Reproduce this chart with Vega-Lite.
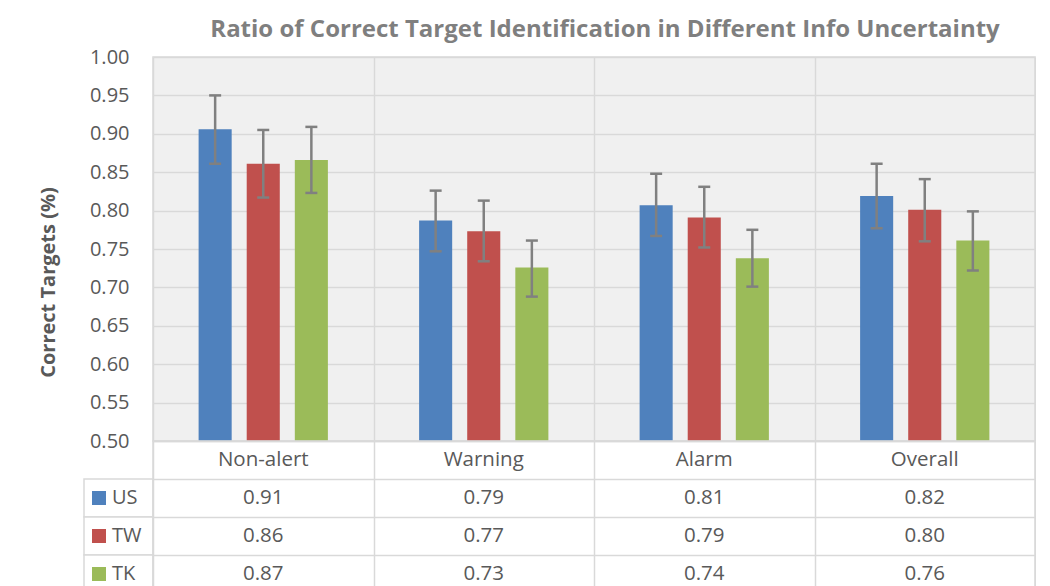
{
  "$schema": "https://vega.github.io/schema/vega-lite/v6.json",
  "background": "white",
  "padding": {"left": 37, "top": 17, "right": 0, "bottom": 0},
  "config": {"font": "Open Sans", "view": {"stroke": null}},
  "datasets": {
    "d": [
      {"cat": "Non-alert", "series": "US", "value": 0.906, "lo": 0.861, "hi": 0.950},
      {"cat": "Warning", "series": "US", "value": 0.787, "lo": 0.747, "hi": 0.826},
      {"cat": "Alarm", "series": "US", "value": 0.807, "lo": 0.767, "hi": 0.848},
      {"cat": "Overall", "series": "US", "value": 0.819, "lo": 0.777, "hi": 0.861},
      {"cat": "Non-alert", "series": "TW", "value": 0.861, "lo": 0.817, "hi": 0.905},
      {"cat": "Warning", "series": "TW", "value": 0.773, "lo": 0.734, "hi": 0.813},
      {"cat": "Alarm", "series": "TW", "value": 0.791, "lo": 0.752, "hi": 0.831},
      {"cat": "Overall", "series": "TW", "value": 0.801, "lo": 0.760, "hi": 0.841},
      {"cat": "Non-alert", "series": "TK", "value": 0.866, "lo": 0.823, "hi": 0.909},
      {"cat": "Warning", "series": "TK", "value": 0.726, "lo": 0.688, "hi": 0.761},
      {"cat": "Alarm", "series": "TK", "value": 0.738, "lo": 0.701, "hi": 0.775},
      {"cat": "Overall", "series": "TK", "value": 0.761, "lo": 0.722, "hi": 0.799}
    ]
  },
  "columns": 2,
  "spacing": 0,
  "bounds": "flush",
  "align": "each",
  "concat": [
    {
      "width": 69,
      "height": 384,
      "data": {"values": []},
      "mark": "point"
    },
    {
      "width": 882,
      "height": 384,
      "data": {"name": "d"},
      "title": {
        "text": "Ratio of Correct Target Identification in Different Info Uncertainty",
        "fontSize": 24,
        "fontWeight": "bold",
        "color": "#7f7f7f",
        "font": "Open Sans",
        "anchor": "middle",
        "offset": 5,
        "dx": 11
      },
      "view": {"stroke": "#d9d9d9", "strokeWidth": 1.5, "fill": "#f0f0f0"},
      "encoding": {
        "x": {
          "field": "cat",
          "type": "nominal",
          "sort": ["Non-alert", "Warning", "Alarm", "Overall"],
          "scale": {"paddingInner": 0, "paddingOuter": 0},
          "axis": {
            "labels": false,
            "ticks": false,
            "domain": false,
            "title": null,
            "grid": true,
            "tickBand": "extent",
            "gridColor": "#d9d9d9",
            "gridWidth": 1.5
          }
        },
        "xOffset": {
          "field": "series",
          "type": "nominal",
          "sort": ["US", "TW", "TK"],
          "scale": {"paddingInner": 0.3125, "paddingOuter": 0.948}
        }
      },
      "layer": [
        {
          "mark": {"type": "bar"},
          "encoding": {
            "y": {
              "field": "value",
              "type": "quantitative",
              "scale": {"domain": [0.5, 1.0], "zero": false, "nice": false},
              "axis": {
                "values": [0.5, 0.55, 0.6, 0.65, 0.7, 0.75, 0.8, 0.85, 0.9, 0.95, 1.0],
                "labelOverlap": false,
                "format": ".2f",
                "labelFontSize": 20,
                "labelColor": "#595959",
                "labelPadding": 24,
                "ticks": false,
                "domain": false,
                "gridColor": "#d9d9d9",
                "gridWidth": 1.5,
                "title": "Correct Targets (%)",
                "titleFontSize": 20,
                "titleFontWeight": "bold",
                "titleColor": "#595959",
                "titlePadding": 31,
                "titleY": 225
              }
            },
            "y2": {"datum": 0.5},
            "color": {
              "field": "series",
              "type": "nominal",
              "scale": {"domain": ["US", "TW", "TK"], "range": ["#4f81bd", "#c0504d", "#9bbb59"]},
              "legend": null
            }
          }
        },
        {
          "mark": {"type": "rule", "color": "#808080", "strokeWidth": 2.5},
          "encoding": {
            "y": {
              "field": "lo",
              "type": "quantitative",
              "axis": {
                "values": [0.5, 0.55, 0.6, 0.65, 0.7, 0.75, 0.8, 0.85, 0.9, 0.95, 1.0],
                "labelOverlap": false,
                "format": ".2f",
                "labelFontSize": 20,
                "labelColor": "#595959",
                "labelPadding": 24,
                "ticks": false,
                "domain": false,
                "gridColor": "#d9d9d9",
                "gridWidth": 1.5,
                "title": "Correct Targets (%)",
                "titleFontSize": 20,
                "titleFontWeight": "bold",
                "titleColor": "#595959",
                "titlePadding": 31,
                "titleY": 225
              }
            },
            "y2": {"field": "hi"}
          }
        },
        {
          "mark": {"type": "tick", "orient": "horizontal", "color": "#808080", "thickness": 2.5, "size": 12, "opacity": 1},
          "encoding": {
            "y": {
              "field": "lo",
              "type": "quantitative",
              "axis": {
                "values": [0.5, 0.55, 0.6, 0.65, 0.7, 0.75, 0.8, 0.85, 0.9, 0.95, 1.0],
                "labelOverlap": false,
                "format": ".2f",
                "labelFontSize": 20,
                "labelColor": "#595959",
                "labelPadding": 24,
                "ticks": false,
                "domain": false,
                "gridColor": "#d9d9d9",
                "gridWidth": 1.5,
                "title": "Correct Targets (%)",
                "titleFontSize": 20,
                "titleFontWeight": "bold",
                "titleColor": "#595959",
                "titlePadding": 31,
                "titleY": 225
              }
            }
          }
        },
        {
          "mark": {"type": "tick", "orient": "horizontal", "color": "#808080", "thickness": 2.5, "size": 12, "opacity": 1},
          "encoding": {
            "y": {
              "field": "hi",
              "type": "quantitative",
              "axis": {
                "values": [0.5, 0.55, 0.6, 0.65, 0.7, 0.75, 0.8, 0.85, 0.9, 0.95, 1.0],
                "labelOverlap": false,
                "format": ".2f",
                "labelFontSize": 20,
                "labelColor": "#595959",
                "labelPadding": 24,
                "ticks": false,
                "domain": false,
                "gridColor": "#d9d9d9",
                "gridWidth": 1.5,
                "title": "Correct Targets (%)",
                "titleFontSize": 20,
                "titleFontWeight": "bold",
                "titleColor": "#595959",
                "titlePadding": 31,
                "titleY": 225
              }
            }
          }
        }
      ]
    },
    {
      "width": 69,
      "height": 152,
      "data": {"name": "d"},
      "transform": [{"filter": "datum.cat === 'Non-alert'"}],
      "encoding": {
        "y": {
          "field": "series",
          "type": "nominal",
          "scale": {"domain": ["Category", "US", "TW", "TK"], "paddingInner": 0, "paddingOuter": 0},
          "axis": null
        }
      },
      "layer": [
        {"mark": {"type": "rect", "fill": "white", "stroke": "#d9d9d9", "strokeWidth": 1.5}},
        {
          "mark": {"type": "point", "shape": "square", "filled": true, "size": 196, "opacity": 1, "xOffset": -19.5},
          "encoding": {
            "color": {
              "field": "series",
              "type": "nominal",
              "scale": {"domain": ["US", "TW", "TK"], "range": ["#4f81bd", "#c0504d", "#9bbb59"]},
              "legend": null
            }
          }
        },
        {
          "mark": {"type": "text", "align": "left", "dx": -6.5, "fontSize": 20, "color": "#595959"},
          "encoding": {"text": {"field": "series"}}
        }
      ]
    },
    {
      "width": 882,
      "height": 152,
      "data": {"name": "d"},
      "view": {"stroke": "#d9d9d9", "strokeWidth": 1.5},
      "encoding": {
        "x": {
          "field": "cat",
          "type": "nominal",
          "sort": ["Non-alert", "Warning", "Alarm", "Overall"],
          "scale": {"paddingInner": 0, "paddingOuter": 0},
          "axis": {
            "labels": false,
            "ticks": false,
            "domain": false,
            "title": null,
            "grid": true,
            "tickBand": "extent",
            "gridColor": "#d9d9d9",
            "gridWidth": 1.5
          }
        }
      },
      "layer": [
        {
          "mark": {"type": "text", "fontSize": 20.5, "color": "#595959"},
          "encoding": {
            "y": {
              "field": "series",
              "type": "nominal",
              "scale": {"domain": ["Category", "US", "TW", "TK"], "paddingInner": 0, "paddingOuter": 0},
              "axis": {
                "labels": false,
                "ticks": false,
                "domain": false,
                "title": null,
                "grid": true,
                "tickBand": "extent",
                "gridColor": "#d9d9d9",
                "gridWidth": 1.5
              }
            },
            "text": {"field": "value", "type": "quantitative", "format": ".2f"}
          }
        },
        {
          "transform": [{"filter": "datum.series === 'US'"}],
          "mark": {"type": "text", "fontSize": 20.5, "color": "#595959"},
          "encoding": {
            "y": {"datum": "Category", "type": "nominal"},
            "text": {"field": "cat", "type": "nominal"}
          }
        }
      ]
    }
  ]
}
